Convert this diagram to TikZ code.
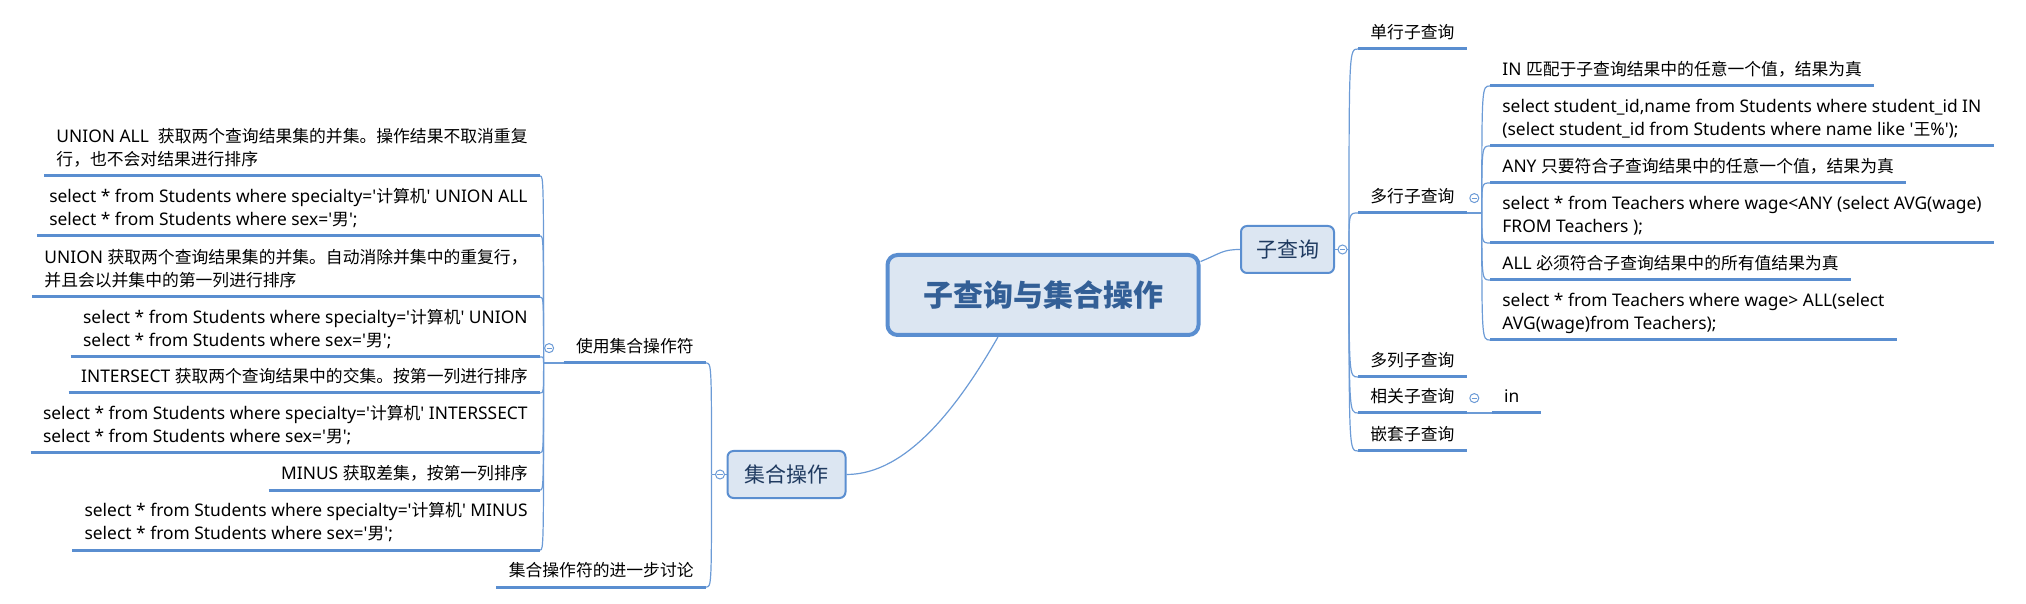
\documentclass[tikz,border=0pt]{standalone}
\usepackage{fontspec}
\setmainfont{Noto Sans}[Ligatures=TeXOff, Scale=1.035]
\newfontfamily\cjkfont{Noto Sans CJK SC}
\XeTeXinterchartokenstate=1
\newXeTeXintercharclass\cjkcls
\newcount\cjkidx
\newcommand\setcjkrange[2]{%
  \cjkidx=#1
  \loop
    \XeTeXcharclass\cjkidx=\cjkcls
    \ifnum\cjkidx<#2 \advance\cjkidx by 1
  \repeat}
\setcjkrange{"3000}{"303F}
\setcjkrange{"4E00}{"9FFF}
\setcjkrange{"FF00}{"FFEF}
\XeTeXinterchartoks 0 \cjkcls = {\cjkfont}
\XeTeXinterchartoks 4095 \cjkcls = {\cjkfont}
\XeTeXinterchartoks \cjkcls 0 = {\rmfamily}
\XeTeXinterchartoks \cjkcls 4095 = {\rmfamily}
\usepackage{tikz}
\usetikzlibrary{positioning}
\definecolor{mmblue}{HTML}{5A8ED0}
\definecolor{mmlink}{HTML}{6C9BD6}
\definecolor{mmfill}{HTML}{DCE6F2}
\definecolor{mmtitle}{HTML}{335F96}
\definecolor{mmnavy}{HTML}{1F3A60}

\begin{document}
\begin{tikzpicture}[x=0.5pt, y=-0.5pt,
    root/.style={rectangle, rounded corners=5pt, draw=mmblue, line width=2pt, fill=mmfill, text=mmtitle, font=\fontsize{15pt}{18pt}\selectfont\bfseries, minimum width=155.5pt, minimum height=40pt},
    topic/.style={rectangle, rounded corners=3pt, draw=mmblue, line width=1pt, fill=mmfill, text=mmnavy, font=\fontsize{10.5pt}{12pt}\selectfont, minimum height=23.5pt},
    leaf/.style={inner xsep=6pt, inner ysep=1.5pt, align=left, font=\fontsize{8.4pt}{11.5pt}\selectfont, execute at begin node=\strut, execute at end node=\strut},
    uline/.style={mmblue, line width=1.5pt},
    link/.style={mmlink, line width=0.6pt},
    fold/.style={circle, draw=mmlink, fill=white, line width=0.5pt, inner sep=0pt, minimum size=4.5pt, path picture={\draw[mmlink, line width=0.5pt] ([xshift=-1.3pt]path picture bounding box.center) -- ([xshift=1.3pt]path picture bounding box.center);}}]
    \useasboundingbox (0,0) rectangle (2026,604);

    \node[root] (cen) at (1043,295) {子查询与集合操作};
    \node[topic, minimum width=46.5pt] (sub) at (1287.5,249.5) {子查询};
    \node[topic, minimum width=59pt] (set) at (786.5,474.5) {集合操作};
    \coordinate (subj) at ([xshift=7pt]sub.east);
    \coordinate (setj) at ([xshift=-7.5pt]set.west);

    \node[leaf, text width=42pt, anchor=south west] (single) at (1358,49) {单行子查询};
    \node[leaf, text width=42pt, anchor=south west] (multi) at (1358,213) {多行子查询};
    \node[leaf, text width=42pt, anchor=south west] (multicol) at (1358,377) {多列子查询};
    \node[leaf, text width=42pt, anchor=south west] (corr) at (1358,413) {相关子查询};
    \node[leaf, text width=42pt, anchor=south west] (nested) at (1358,451) {嵌套子查询};
    \node[leaf, text width=12pt, anchor=south west] (inval) at ([xshift=12.5pt]corr.south east) {in};
    \coordinate (multij) at ([xshift=7.5pt]multi.south east);

    \node[leaf, anchor=south west] (indesc) at (1490,86) {IN 匹配于子查询结果中的任意一个值，结果为真};
    \node[leaf, anchor=south west] (insql) at (1490,146) {select student\_id,name from Students where student\_id IN\\(select student\_id from Students where name like '王\%');};
    \node[leaf, anchor=south west] (anydesc) at (1490,183) {ANY 只要符合子查询结果中的任意一个值，结果为真};
    \node[leaf, anchor=south west] (anysql) at (1490,243) {select * from Teachers where wage<ANY (select AVG(wage)\\FROM Teachers );};
    \node[leaf, anchor=south west] (alldesc) at (1490,280) {ALL 必须符合子查询结果中的所有值结果为真};
    \node[leaf, anchor=south west] (allsql) at (1490,340) {select * from Teachers where wage> ALL(select\\AVG(wage)from Teachers);};

    \node[leaf, anchor=south east] (useop) at (706,363) {使用集合操作符};
    \node[leaf, anchor=south east] (further) at (706,587) {集合操作符的进一步讨论};
    \coordinate (useopj) at ([xshift=-10pt]useop.south west);

    \node[leaf, anchor=south east] (unionalldesc) at (540,176) {UNION ALL~~获取两个查询结果集的并集。操作结果不取消重复\\行，也不会对结果进行排序};
    \node[leaf, anchor=south east] (unionallsql) at (540,236) {select * from Students where specialty='计算机' UNION ALL\\select * from Students where sex='男';};
    \node[leaf, anchor=south east] (uniondesc) at (540,297) {UNION 获取两个查询结果集的并集。自动消除并集中的重复行，\\并且会以并集中的第一列进行排序};
    \node[leaf, anchor=south east] (unionsql) at (540,357) {select * from Students where specialty='计算机' UNION\\select * from Students where sex='男';};
    \node[leaf, anchor=south east] (intersectdesc) at (540,393) {INTERSECT 获取两个查询结果中的交集。按第一列进行排序};
    \node[leaf, anchor=south east] (intersectsql) at (540,453) {select * from Students where specialty='计算机' INTERSSECT\\select * from Students where sex='男';};
    \node[leaf, anchor=south east] (minusdesc) at (540,490) {MINUS 获取差集，按第一列排序};
    \node[leaf, anchor=south east] (minussql) at (540,550) {select * from Students where specialty='计算机' MINUS\\select * from Students where sex='男';};

    \foreach \n in {single,multi,multicol,corr,nested,inval,indesc,insql,anydesc,anysql,alldesc,allsql,useop,further,unionalldesc,unionallsql,uniondesc,unionsql,intersectdesc,intersectsql,minusdesc,minussql}
        \draw[uline] (\n.south west) -- (\n.south east);

    \draw[link] (cen.12) .. controls +(20,-8) and +(-18,0) .. (sub.west);
    \draw[link] (cen.223) .. controls +(-40,70) and +(60,0) .. (set.east);

    \draw[link] (sub.east) -- (subj);
    \foreach \n in {single,multi,multicol,corr,nested}
        \draw[link] (subj) .. controls (subj |- \n.south west) .. (\n.south west);
    \draw[link] (multi.south east) -- (multij);
    \foreach \n in {indesc,insql,anydesc,anysql,alldesc,allsql}
        \draw[link] (multij) .. controls (multij |- \n.south west) .. (\n.south west);
    \draw[link] (corr.south east) -- (inval.south west);

    \draw[link] (set.west) -- (setj);
    \foreach \n in {useop,further}
        \draw[link] (setj) .. controls (setj |- \n.south east) .. (\n.south east);
    \draw[link] (useopj) -- (useop.south west);
    \foreach \n in {unionalldesc,unionallsql,uniondesc,unionsql,intersectdesc,intersectsql,minusdesc,minussql}
        \draw[link] (useopj) .. controls (useopj |- \n.south east) .. (\n.south east);

    \node[fold, right=1.25pt of sub] (subfold) {};
    \node[fold, left=0.75pt of set] (setfold) {};
    \node[fold, right=1.25pt of multi] (multifold) {};
    \node[fold, right=1.25pt of corr] (corrfold) {};
    \node[fold, left=4.75pt of useop] (useopfold) {};
\end{tikzpicture}
\end{document}
